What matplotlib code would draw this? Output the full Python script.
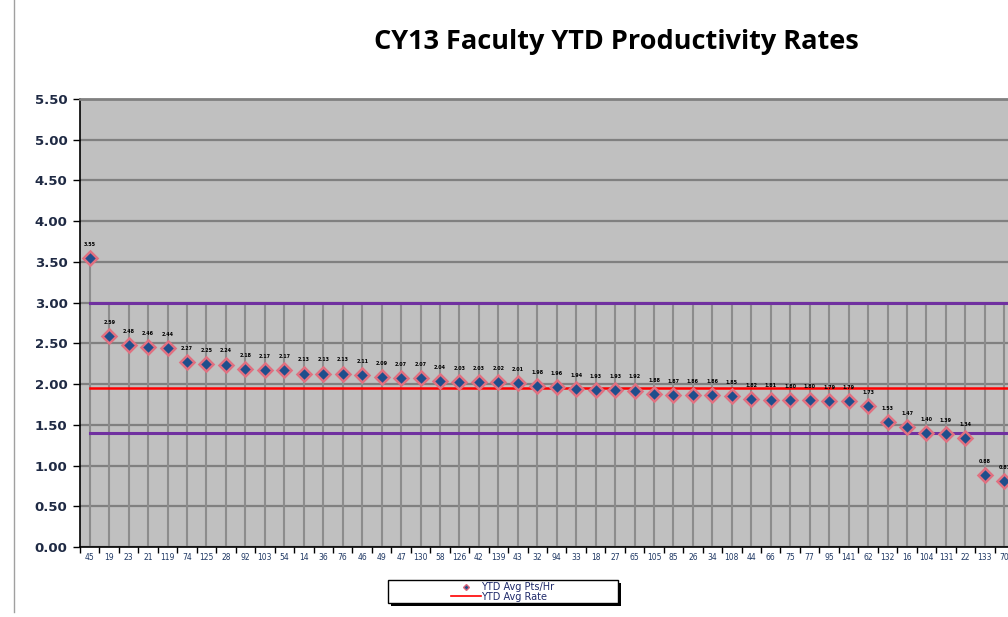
import matplotlib
matplotlib.use("Agg")
from matplotlib import pyplot as plt
from matplotlib.patches import Rectangle
from matplotlib.lines import Line2D

# faculty ids (x categories) and their YTD average points per hour
faculty = ['45', '19', '23', '21', '119', '74', '125', '28', '92', '103', '54', '14',
           '36', '76', '46', '49', '47', '130', '58', '126', '42', '139', '43', '32',
           '94', '33', '18', '27', '65', '105', '85', '26', '34', '108', '44', '66',
           '75', '77', '95', '141', '62', '132', '16', '104', '131', '22', '133', '70']
pts_hr = [3.55, 2.59, 2.48, 2.46, 2.44, 2.27, 2.25, 2.24, 2.18, 2.17, 2.17, 2.13,
          2.13, 2.13, 2.11, 2.09, 2.07, 2.07, 2.04, 2.03, 2.03, 2.02, 2.01, 1.98,
          1.96, 1.94, 1.93, 1.93, 1.92, 1.88, 1.87, 1.86, 1.86, 1.85, 1.82, 1.81,
          1.80, 1.80, 1.79, 1.79, 1.73, 1.53, 1.47, 1.40, 1.39, 1.34, 0.88, 0.81]
avg_rate = 1.95
upper_limit = 3.00
lower_limit = 1.40

yticks = [0.0, 0.5, 1.0, 1.5, 2.0, 2.5, 3.0, 3.5, 4.0, 4.5, 5.0, 5.5]

W, H = 1008, 617
fig = plt.figure(figsize=(W / 100, H / 100), dpi=100)
fig.patch.set_facecolor('white')

# axes run past the right edge, like the cropped original
ax = fig.add_axes([80 / W, (H - 547) / H, 934 / W, 448 / H])
ax.set_facecolor('#C0C0C0')

x = list(range(len(faculty)))
n = len(faculty)

# drop lines from the highest series down to the axis
tops = [max(v, upper_limit) for v in pts_hr]
ax.vlines(x, 0, tops, color='#8C8C8C', lw=1.5, zorder=1)

ax.plot([0, n + 2], [upper_limit, upper_limit], color='#7030A0', lw=2.2, zorder=2)
ax.plot([0, n + 2], [lower_limit, lower_limit], color='#7030A0', lw=2.2, zorder=2)
ax.plot([0, n + 2], [avg_rate, avg_rate], color='#FF0000', lw=1.8, zorder=2)

ax.plot(x, pts_hr, ls='none', marker='D', ms=7.5, mfc='#1F4E8C',
        mec='#E07080', mew=1.8, zorder=4)

for xi, v in zip(x, pts_hr):
    ax.annotate('%.2f' % v, (xi, v), xytext=(0, 8), textcoords='offset points',
                ha='center', va='bottom', fontsize=3.5, fontweight='bold',
                color='black', zorder=5)

ax.set_xlim(-0.5, n - 0.5)
ax.set_ylim(0, 5.5)

ax.set_yticks(yticks)
ax.set_yticklabels(['%.2f' % t for t in yticks], fontsize=9.5, fontweight='bold',
                   color='#1F2A44')
ax.yaxis.grid(True, color='#808080', lw=1.6)
ax.set_axisbelow(True)

ax.set_xticks(x)
ax.set_xticklabels(faculty, fontsize=5.5, color='#1F3864')
ax.set_xticks([i - 0.5 for i in range(n + 1)], minor=True)
ax.tick_params(axis='x', which='major', length=0, pad=4)
ax.tick_params(axis='x', which='minor', length=4, width=1, direction='out')
ax.tick_params(axis='y', length=5, width=1, direction='out', pad=4)

ax.spines['left'].set_color('black')
ax.spines['left'].set_linewidth(1.2)
ax.spines['bottom'].set_color('black')
ax.spines['bottom'].set_linewidth(1.2)
ax.spines['top'].set_color('#808080')
ax.spines['top'].set_linewidth(2)
ax.spines['right'].set_visible(False)

fig.text(616 / W, 1 - 42 / H, 'CY13 Faculty YTD Productivity Rates',
         ha='center', va='center', fontsize=19.5, fontweight='bold',
         family='Open Sans')

# chart area border on the left
fig.add_artist(Line2D([14 / W, 14 / W], [1 - 612 / H, 1], color='#A0A0A0', lw=1))

# legend box with shadow
fig.add_artist(Rectangle((391 / W, 1 - 606 / H), 230 / W, 23 / H,
                         transform=fig.transFigure, facecolor='black', edgecolor='none'))
fig.add_artist(Rectangle((388 / W, 1 - 603 / H), 230 / W, 23 / H,
                         transform=fig.transFigure, facecolor='white', edgecolor='black', lw=1))
handles = [Line2D([], [], ls='none', marker='D', ms=3, mfc='#1F4E8C', mec='#D9667A'),
           Line2D([], [], color='#FF0000', lw=1.2)]
fig.legend(handles, ['YTD Avg Pts/Hr', 'YTD Avg Rate'], loc='center',
           bbox_to_anchor=(503 / W, 1 - 592 / H), frameon=False, fontsize=7,
           labelspacing=-0.1, handlelength=3, handletextpad=0.1, borderpad=0,
           labelcolor='#1F2A6A')

fig.savefig('out.png', dpi=100)
